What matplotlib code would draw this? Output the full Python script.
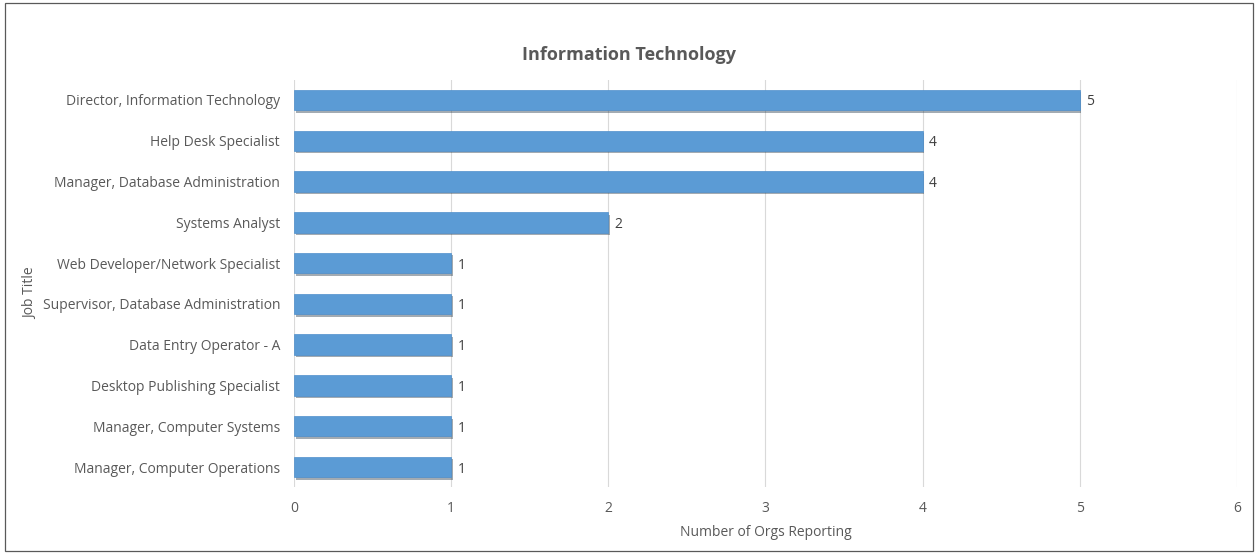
import matplotlib.pyplot as plt
import matplotlib.patheffects as pe
from matplotlib.patches import Rectangle

# Job titles, top to bottom as shown
titles = [
    "Director, Information Technology",
    "Help Desk Specialist",
    "Manager, Database Administration",
    "Systems Analyst",
    "Web Developer/Network Specialist",
    "Supervisor, Database Administration",
    "Data Entry Operator - A",
    "Desktop Publishing Specialist",
    "Manager, Computer Systems",
    "Manager, Computer Operations",
]
counts = [5, 4, 4, 2, 1, 1, 1, 1, 1, 1]
x_ticks = [0, 1, 2, 3, 4, 5, 6]

TEXT = "#595959"
BAR = "#5B9BD5"
GRID = "#D9D9D9"

plt.rcParams['font.family'] = ['Open Sans', 'DejaVu Sans']

fig = plt.figure(figsize=(12.58, 5.54), dpi=100)
ax = fig.add_axes([0.2337, 0.1202, 0.7496, 0.7361])

ypos = list(range(len(titles)))[::-1]
bars = ax.barh(ypos, counts, height=0.5, color=BAR, edgecolor="#4F8FCB",
               linewidth=0.5, zorder=3)
for b in bars:
    b.set_path_effects([pe.SimplePatchShadow(offset=(1.2, -1.8), alpha=0.4),
                        pe.Normal()])

for y, v in zip(ypos, counts):
    ax.text(v + 0.04, y, str(v), va="center_baseline", ha="left",
            fontsize=10, color="#404040")

ax.set_xlim(0, 6)
ax.set_ylim(-0.5, len(titles) - 0.5)
ax.set_xticks(x_ticks)
ax.set_yticks(ypos)
ax.set_yticklabels(titles)
ax.tick_params(axis="both", length=0, labelsize=10, labelcolor=TEXT)
ax.tick_params(axis="x", pad=10)
ax.tick_params(axis="y", pad=10)
ax.grid(axis="x", color=GRID, linewidth=0.8, zorder=0)
for s in ax.spines.values():
    s.set_visible(False)

fig.text(0.5, 0.90, "Information Technology", ha="center", va="center",
         fontsize=13, fontweight="bold", color=TEXT)
ax.set_xlabel("Number of Orgs Reporting", fontsize=10, color=TEXT, labelpad=6)
fig.text(0.024, 0.47, "Job Title", rotation=90, ha="center", va="center",
         fontsize=10, color=TEXT)

# outer chart border
fig.patches.append(Rectangle((0.004, 0.006), 0.992, 0.988, transform=fig.transFigure,
                             fill=False, edgecolor="#595959", linewidth=0.9))

fig.savefig("out.png", dpi=100)
